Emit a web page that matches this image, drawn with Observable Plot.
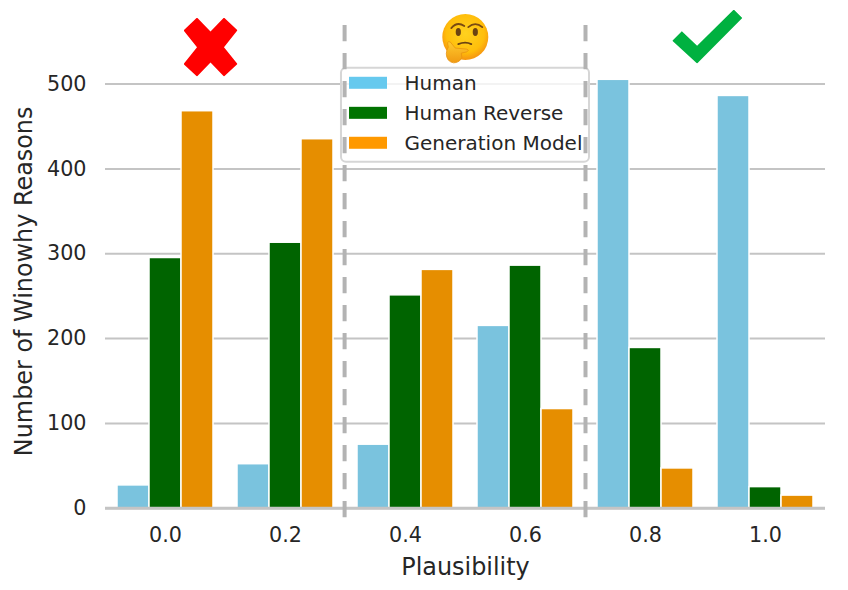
<!DOCTYPE html>
<html>
<head>
<meta charset="utf-8">
<script src="https://cdn.jsdelivr.net/npm/d3@7"></script>
<script src="https://cdn.jsdelivr.net/npm/@observablehq/plot@0.6"></script>
<style>
  html, body { margin: 0; background: #fff; }
  #chart { width: 848px; height: 590px; }
  #chart svg { display: block; }
</style>
</head>
<body>
<div id="chart"></div>
<script>
const plausibility = [0, 0.2, 0.4, 0.6, 0.8, 1.0]
const human = [27, 52, 75, 215, 505, 486]
const humanReverse = [295, 313, 251, 286, 189, 25]
const generation = [468, 435, 281, 117, 47, 15]
const seriesNames = ["Human", "Human Reverse", "Generation Model"]
const barColors = ["#7ac3de", "#006400", "#e68e00"]
const legendColors = ["#66c9ee", "#007300", "#ff9900"]
const legendY = [500.9, 465.5, 430.2]
const yTicks = [0, 100, 200, 300, 400, 500]
const splits = [0.2985, 0.7]

// three bars side by side in each plausibility bin
const barWidth = 0.16 / 3
const rows = []
;[human, humanReverse, generation].forEach((values, s) => {
  values.forEach((v, i) => {
    const left = plausibility[i] - 0.08 + s * barWidth
    rows.push({series: seriesNames[s], x1: left, x2: left + barWidth, y: v})
  })
})

const legendRows = seriesNames.map((name, i) => ({name, y: legendY[i], color: legendColors[i]}))

const svgUri = body => "data:image/svg+xml," + encodeURIComponent(body)

const crossIcon = svgUri(`<svg xmlns="http://www.w3.org/2000/svg" viewBox="70 52 160 175">
  <polygon fill="#ff0000" points="110,52 150,93 190,52 230,90 190,140 230,190 190,227 150,185 110,227 70,190 110,140 70,90"/></svg>`)

const checkIcon = svgUri(`<svg xmlns="http://www.w3.org/2000/svg" viewBox="278 28 206 159">
  <polygon fill="#00b140" points="278,120 306,92 351,135 459,28 484,53 351,187"/></svg>`)

const thinkIcon = svgUri(`<svg xmlns="http://www.w3.org/2000/svg" viewBox="0 0 52 52">
  <defs><radialGradient id="g" cx="50%" cy="42%" r="55%"><stop offset="0" stop-color="#ffd21f"/><stop offset="0.75" stop-color="#ffbe0b"/><stop offset="1" stop-color="#f79a10"/></radialGradient>
  <linearGradient id="h" x1="0" y1="0" x2="0" y2="1"><stop offset="0" stop-color="#ffcb2e"/><stop offset="1" stop-color="#f09a12"/></linearGradient></defs>
  <circle cx="27" cy="24" r="23" fill="url(#g)"/>
  <path d="M13 15 Q19 8 26 13" fill="none" stroke="#7a4a12" stroke-width="1.8" stroke-linecap="round"/>
  <path d="M30 14 Q37 8 44 14" fill="none" stroke="#7a4a12" stroke-width="1.8" stroke-linecap="round"/>
  <ellipse cx="20" cy="19" rx="2.6" ry="4" fill="#6b4212"/>
  <ellipse cx="37" cy="19" rx="2.6" ry="4" fill="#6b4212"/>
  <path d="M20 31 Q27 28 33 31" fill="none" stroke="#6b4212" stroke-width="1.8" stroke-linecap="round"/>
  <path d="M10 34 Q8 27 12 29 L17 35 L28 36 Q32 37 28 39 L23 40 Q25 45 21 48 Q15 52 10 47 Q6 41 10 34Z" fill="url(#h)" stroke="#e8930f" stroke-width="0.8"/></svg>`)

const chart = Plot.plot({
  width: 848,
  height: 590,
  marginLeft: 105,
  marginRight: 23,
  marginTop: 25,
  marginBottom: 72,
  style: {fontFamily: "DejaVu Sans", color: "#262626", background: "#fff"},
  x: {domain: [-0.1, 1.1]},
  y: {domain: [-12, 569]},
  marks: [
    Plot.ruleY(yTicks, {stroke: "#c4c4c4", strokeWidth: 2}),
    Plot.rectY(rows, {x1: "x1", x2: "x2", y: "y", fill: d => barColors[seriesNames.indexOf(d.series)], stroke: "#fff", strokeWidth: 1.5}),
    Plot.ruleY([0], {stroke: "#c4c4c4", strokeWidth: 3}),
    // legend sits under the dashed lines, over the grid
    Plot.rect([{x1: 0.2933, x2: 0.7067, y1: 407.8, y2: 518.6}], {x1: "x1", x2: "x2", y1: "y1", y2: "y2", fill: "#fff", fillOpacity: 0.8, stroke: "#d6d6d6", strokeWidth: 2, rx: 5}),
    Plot.rect(legendRows, {x1: 0.3067, x2: 0.37, y1: d => d.y - 7.07, y2: d => d.y + 7.07, fill: "color"}),
    Plot.text(legendRows, {x: 0.3983, y: "y", text: "name", textAnchor: "start", fontSize: 20, fill: "#262626"}),
    Plot.ruleX(splits, {stroke: "#b3b3b3", strokeWidth: 4, strokeDasharray: "16.3 11.7"}),
    Plot.axisY({ticks: yTicks, tickSize: 0, tickPadding: 19, fontSize: 20.7, label: null, fill: "#262626"}),
    Plot.axisX({ticks: plausibility, tickSize: 0, tickPadding: 9, fontSize: 20.7, tickFormat: d3.format(".1f"), label: null, fill: "#262626"}),
    Plot.text(["Number of Winowhy Reasons"], {x: -0.235, y: 267.5, rotate: -90, fontSize: 23.9, fill: "#262626"}),
    Plot.text(["Plausibility"], {x: 0.5, y: -70, fontSize: 23.9, fill: "#262626"}),
    Plot.image([{x: 0.075, y: 543.6}], {x: "x", y: "y", src: crossIcon, width: 54, height: 59}),
    Plot.image([{x: 0.498, y: 553}], {x: "x", y: "y", src: thinkIcon, width: 52, height: 52}),
    Plot.image([{x: 0.903, y: 556}], {x: "x", y: "y", src: checkIcon, width: 70, height: 54})
  ]
})

document.getElementById("chart").append(chart)
</script>
</body>
</html>
